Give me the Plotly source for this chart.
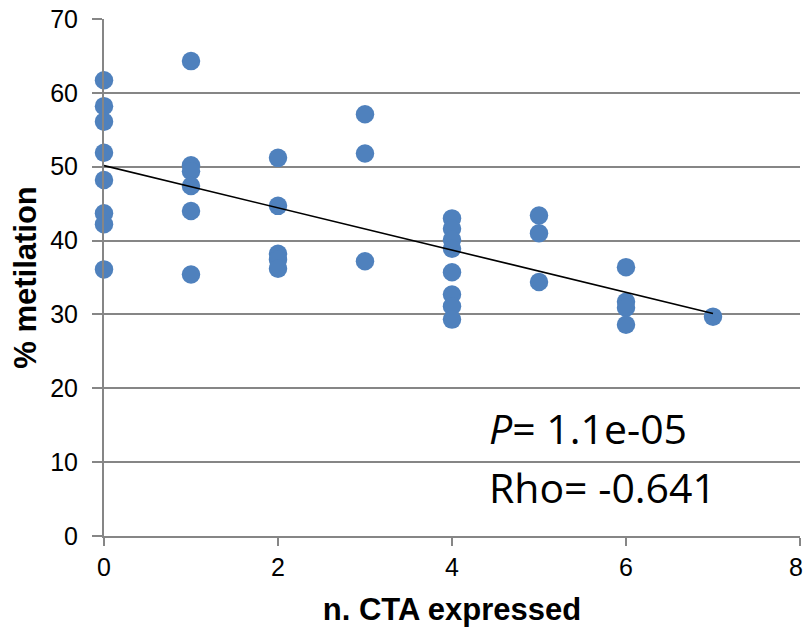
import numpy as np
import plotly.graph_objects as go

n_cta = [0]*8 + [1]*6 + [2]*5 + [3]*3 + [4]*8 + [5]*3 + [6]*4 + [7]
metil = [61.7, 58.2, 56.1, 51.9, 48.2, 43.7, 42.2, 36.1,
         64.3, 50.2, 49.4, 47.4, 44.0, 35.4,
         51.2, 44.7, 38.2, 37.4, 36.2,
         57.1, 51.8, 37.2,
         43.0, 41.6, 40.1, 38.9, 35.7, 32.7, 31.1, 29.3,
         43.4, 41.0, 34.4,
         36.4, 31.7, 30.9, 28.6,
         29.7]
x_ticks = [0, 2, 4, 6, 8]
y_ticks = [0, 10, 20, 30, 40, 50, 60, 70]
p_text = "<i>P</i>= 1.1e-05"
rho_text = "Rho= -0.641"

slope, intercept = np.polyfit(n_cta, metil, 1)
fit_x = [min(n_cta), max(n_cta)]
fit_y = [intercept + slope * v for v in fit_x]

sans = "Liberation Sans, Arial"

fig = go.Figure()
fig.add_trace(go.Scatter(x=n_cta, y=metil, mode="markers",
                         marker=dict(size=18.5, color="#4F81BD"), showlegend=False,
                         cliponaxis=False))
fig.add_trace(go.Scatter(x=fit_x, y=fit_y, mode="lines",
                         line=dict(color="black", width=1.6), showlegend=False))

fig.update_layout(
    width=805, height=627,
    margin=dict(l=104, r=5, t=19, b=91),
    paper_bgcolor="white", plot_bgcolor="white",
    font=dict(family=sans, color="black"),
    xaxis=dict(range=[0, 8], tickvals=x_ticks, showgrid=False, automargin=False,
               showline=True, linecolor="#868686", linewidth=2,
               ticks="outside", ticklen=8, tickcolor="#868686", tickwidth=2,
               tickfont=dict(size=25), zeroline=False,
               title=dict(text="<b>n. CTA expressed</b>",
                          font=dict(size=31), standoff=18)),
    yaxis=dict(range=[0, 70], tickvals=y_ticks, showgrid=True, automargin=False,
               gridcolor="#868686", gridwidth=2,
               showline=True, linecolor="#868686", linewidth=2,
               ticks="outside", ticklen=10, tickcolor="#868686", tickwidth=2,
               ticklabelstandoff=9,
               tickfont=dict(size=25), zeroline=False,
               title=dict(text="<b>% metilation</b>",
                          font=dict(size=31), standoff=4)),
    annotations=[
        dict(x=x_ticks[-1], y=0, xref="x", yref="paper", text=str(x_ticks[-1]),
             showarrow=False, xanchor="right", yanchor="top", yshift=-15, xshift=5,
             font=dict(size=25, family=sans)),
        dict(x=0.550, y=0.209, xref="paper", yref="paper", text=p_text, showarrow=False,
             xanchor="left", yanchor="middle", font=dict(family="Open Sans", size=41)),
        dict(x=0.550, y=0.094, xref="paper", yref="paper", text=rho_text, showarrow=False,
             xanchor="left", yanchor="middle", font=dict(family="Open Sans", size=41)),
    ],
)
fig.write_html("out.html")
